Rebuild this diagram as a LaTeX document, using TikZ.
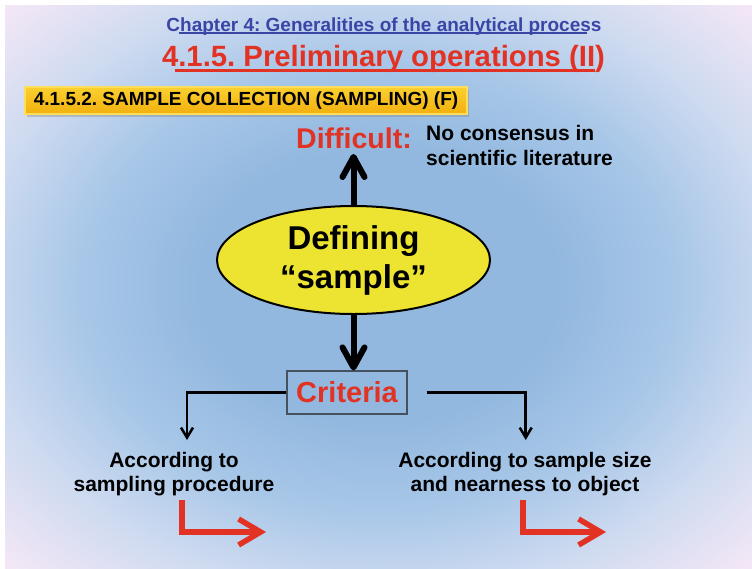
\documentclass[tikz,border=0pt]{standalone}
\usepackage{fontspec}
\setmainfont{Liberation Sans}
\usetikzlibrary{positioning,calc,arrows.meta,shapes.geometric,shadows}

\definecolor{chapblue}{RGB}{58,70,165}
\definecolor{slidered}{RGB}{226,50,36}
\definecolor{ellyellow}{RGB}{236,228,48}
\definecolor{critgray}{RGB}{70,80,95}
\definecolor{bannertop}{RGB}{250,208,48}
\definecolor{bannerbot}{RGB}{242,176,14}
\definecolor{bannerrim}{RGB}{252,222,90}
\definecolor{bgA}{RGB}{146,184,223}
\definecolor{bgB}{RGB}{168,199,232}
\definecolor{bgC}{RGB}{205,218,240}
\definecolor{bgD}{RGB}{243,231,246}

\pgfdeclareradialshading{slidebg}{\pgfpoint{0bp}{0bp}}{color(0bp)=(bgA); color(12bp)=(bgA); color(20bp)=(bgB); color(27bp)=(bgC); color(35bp)=(bgD); color(50bp)=(bgD)}

\newcommand{\fsz}[2]{\fontsize{#1}{#2}\selectfont}
\frenchspacing

\begin{document}
\begin{tikzpicture}[x=1pt,y=-1pt,
  bigarrow/.style={line width=6pt,-{Straight Barb[length=20pt,width=22pt,round]}},
  thinarrow/.style={line width=2.5pt,-{Straight Barb[length=10pt,width=12pt]}},
  redarrow/.style={draw=slidered,line width=5.5pt,-{Straight Barb[length=22pt,width=26pt]}},
  bannerbox/.style={draw=bannerrim,line width=2.5pt,top color=bannertop,bottom color=bannerbot,
    drop shadow={shadow xshift=2pt,shadow yshift=-3pt,opacity=0.35},
    minimum width=442pt,minimum height=27pt,inner sep=0pt,font=\bfseries\fsz{19}{22}},
  leaftext/.style={font=\bfseries\fsz{21}{24},align=center,inner sep=0pt}]
  \useasboundingbox (0,0) rectangle (752,568);
  % slide background
  \fill[white] (0,0) rectangle (752,568);
  \shade[shading=slidebg] (5,5) rectangle (752,568);

  % headings
  \node[font=\bfseries\fsz{19}{22},text=chapblue,inner sep=0pt,anchor=base] (chap) at (384,31)
    {Chapter 4: Generalities of the analytical process};
  \draw[chapblue,line width=1.8pt] ($(chap.base west)+(13,2)$) -- ($(chap.base east)+(-15,2)$);
  \node[font=\bfseries\fsz{29.3}{34},text=slidered,inner sep=0pt,anchor=base] (title) at (383.5,66)
    {4.1.5. Preliminary operations (II)};
  \draw[slidered,line width=2.5pt] ($(title.base west)+(13,4.3)$) -- ($(title.base east)+(-10,4.3)$);
  \node[bannerbox] (banner) at (246,100.5) {4.1.5.2. SAMPLE COLLECTION (SAMPLING) (F)};

  % top part
  \node[font=\bfseries\fsz{28.5}{32},text=slidered,inner sep=0pt,anchor=base west] (diff) at (296,148) {Difficult:};
  \node[font=\bfseries\fsz{21}{25},align=left,inner sep=0pt,anchor=north west] (nocons) at (426,124.7)
    {No consensus in\\scientific literature};
  \node[ellipse,draw,line width=2pt,fill=ellyellow,minimum width=273pt,minimum height=108pt,
    inner sep=0pt,font=\bfseries\fsz{33}{39},align=center] (ell) at (353.5,260) {Defining\\“sample”};
  \draw[bigarrow] (ell.north) -- ($(ell.north |- diff.base)+(0,6)$);

  % criteria
  \node[draw=critgray,line width=1.2pt,minimum width=120pt,minimum height=43pt,inner sep=0pt,
    font=\bfseries\fsz{29}{32},text=slidered] (crit) at (347,392.5) {Criteria};
  \draw[bigarrow] (ell.south) -- (ell.south |- crit.north);

  \coordinate (ltip) at (187,440);
  \coordinate (rtip) at (525.7,440);
  \draw[thinarrow] (crit.west) -| (ltip);
  \draw[thinarrow] ([xshift=19pt]crit.east) -| (rtip);

  \node[leaftext,anchor=north] (lproc) at (174,452) {According to\\sampling procedure};
  \node[leaftext,anchor=north] (rsize) at (525,452) {According to sample size\\and nearness to object};

  % red arrows
  \draw[redarrow] (182,500) |- (266,532);
  \draw[redarrow] (523,500) |- (606,532);
\end{tikzpicture}
\end{document}
